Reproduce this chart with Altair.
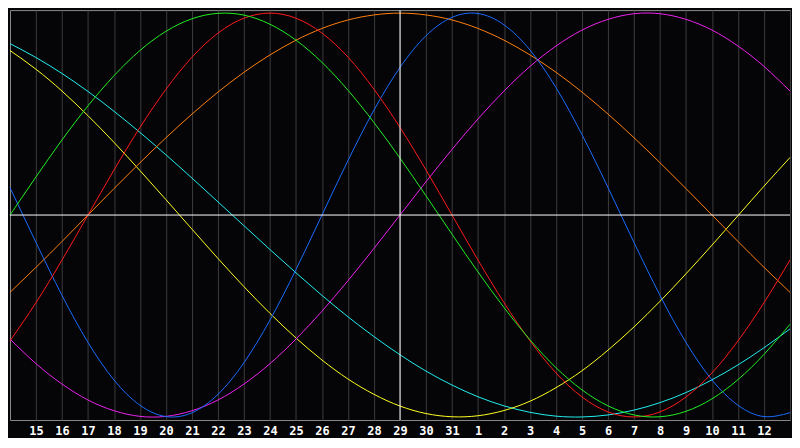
import altair as alt
import pandas as pd

# Day labels shown under the grid (index 0 .. 28)
day_labels = ["15", "16", "17", "18", "19", "20", "21", "22", "23", "24", "25", "26",
              "27", "28", "29", "30", "31", "1", "2", "3", "4", "5", "6", "7", "8",
              "9", "10", "11", "12"]
# Sample positions (day index), from the left edge (-1) to the right edge (29)
day_index = list(range(-1, 30))
grid_days = list(range(0, 30))
today_index = [14]
zero_level = [0]

# Curve values (percent) read at each day index
physical = [13.6, -13.6, -39.8, -63.1, -81.7, -94.2, -99.8, -97.9, -88.8, -73.1, -52.0,
            -27.0, 0, 27.0, 52.0, 73.1, 88.8, 97.9, 99.8, 94.2, 81.7, 63.1, 39.8, 13.6,
            -13.6, -39.8, -63.1, -81.7, -94.2, -99.8, -97.9]
emotional = [-62.3, -43.4, -22.3, 0, 22.3, 43.4, 62.3, 78.2, 90.1, 97.5, 100, 97.5, 90.1,
             78.2, 62.3, 43.4, 22.3, 0, -22.3, -43.4, -62.3, -78.2, -90.1, -97.5, -100,
             -97.5, -90.1, -78.2, -62.3, -43.4, -22.3]
intellectual = [0, 18.9, 37.2, 54.1, 69.0, 81.5, 91.0, 97.2, 99.9, 99.0, 94.5, 86.6, 75.6,
                61.8, 45.8, 28.2, 9.5, -9.5, -28.2, -45.8, -61.8, -75.6, -86.6, -94.5,
                -99.0, -99.9, -97.2, -91.0, -81.5, -69.0, -54.1]
intuitive = [-61.4, -73.6, -83.7, -91.6, -96.9, -99.7, -99.7, -96.9, -91.6, -83.7, -73.6,
             -61.4, -47.6, -32.5, -16.5, 0, 16.5, 32.5, 47.6, 61.4, 73.6, 83.7, 91.6, 96.9,
             99.7, 99.7, 96.9, 91.6, 83.7, 73.6, 61.4]
aesthetic = [81.5, 72.2, 61.4, 49.2, 36.0, 22.0, 7.6, -7.0, -21.5, -35.5, -48.7, -60.9,
             -71.8, -81.2, -88.8, -94.6, -98.3, -99.9, -99.4, -96.8, -92.2, -85.5, -77.1,
             -66.9, -55.4, -42.7, -29.1, -14.9, -0.3, 14.3, 28.5]
awareness = [-38.3, -25.9, -13.1, 0, 13.1, 25.9, 38.3, 50.0, 60.9, 70.7, 79.3, 86.6, 92.4,
             96.6, 99.1, 100, 99.1, 96.6, 92.4, 86.6, 79.3, 70.7, 60.9, 50.0, 38.3, 25.9,
             13.1, 0, -13.1, -25.9, -38.3]
spiritual = [84.9, 78.0, 70.1, 61.2, 51.4, 40.9, 29.8, 18.3, 6.5, -5.3, -17.1, -28.6,
             -39.8, -50.4, -60.2, -69.2, -77.3, -84.2, -90.0, -94.5, -97.7, -99.6, -100.0,
             -99.0, -96.6, -92.9, -87.9, -81.6, -74.2, -65.7, -56.4]

series_names = ["Spiritual", "Aesthetic", "Awareness", "Intuitive", "Physical",
                "Emotional", "Intellectual"]
series_values = [spiritual, aesthetic, awareness, intuitive, physical, emotional,
                 intellectual]
series_colors = ["#22eeee", "#ffff22", "#ff8010", "#ee22ee", "#1a6cff", "#ff1a1a",
                 "#22ee22"]

rows = []
for name, vals in zip(series_names, series_values):
    for t, v in zip(day_index, vals):
        rows.append({"series": name, "t": t, "v": v})
df = pd.DataFrame(rows)

# Nested conditional label expression built from the label list
label_expr = "''"
for i in range(len(day_labels) - 1, -1, -1):
    label_expr = "datum.value == %d ? '%s' : (%s)" % (i, day_labels[i], label_expr)

x_scale = alt.Scale(domain=[day_index[0], day_index[-1]], nice=False, zero=False)
y_scale = alt.Scale(domain=[-101.5, 101.5], nice=False, zero=False)


def x_axis():
    return alt.Axis(values=grid_days, labelExpr=label_expr, title=None,
                    grid=True, gridColor="#3c3c3c", gridWidth=1, domain=False,
                    ticks=False, labelColor="#ffffff", labelFontWeight="bold",
                    labelFont="DejaVu Sans Mono", labelFontSize=12,
                    labelPadding=6, labelOverlap=False, labelFlush=False)


curves = alt.Chart(df).mark_line(strokeWidth=1, interpolate="natural").encode(
    x=alt.X("t:Q", scale=x_scale, axis=x_axis()),
    y=alt.Y("v:Q", scale=y_scale, axis=None),
    color=alt.Color("series:N", scale=alt.Scale(domain=series_names, range=series_colors),
                    legend=None),
)

today = alt.Chart(pd.DataFrame({"t": today_index})).mark_rule(
    color="#ffffff", strokeWidth=1).encode(x=alt.X("t:Q", scale=x_scale, axis=x_axis()))

zero = alt.Chart(pd.DataFrame({"v": zero_level})).mark_rule(
    color="#ffffff", strokeWidth=1).encode(y=alt.Y("v:Q", scale=y_scale, axis=None))

chart = alt.layer(curves, today, zero).properties(
    width=784, height=412, padding=0, background="#050508"
).configure_view(
    fill="#050508", stroke="#8a8a8a", strokeWidth=1
).configure_axisX(
    labelOverlap=False, labelFont="DejaVu Sans Mono", labelFontSize=12,
    labelFontWeight="bold", labelColor="#ffffff", gridColor="#3c3c3c"
)

chart.save("out.html", embed_options={"renderer": "svg", "actions": False})
